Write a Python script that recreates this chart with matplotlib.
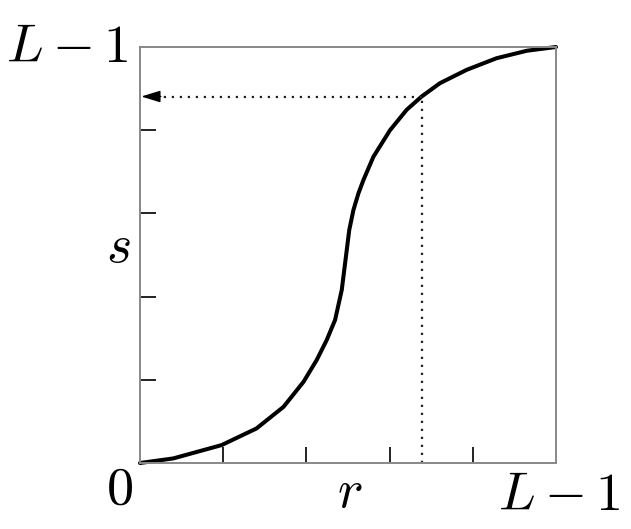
import matplotlib
matplotlib.use("Agg")
import matplotlib.pyplot as plt

plt.rcParams['mathtext.fontset'] = 'cm'

# transformation curve s = T(r) (fractions of L-1)
r_vals = [0.0, 0.08, 0.196, 0.28, 0.345, 0.393, 0.425, 0.449, 0.469, 0.485, 0.493,
          0.503, 0.513, 0.525, 0.537, 0.561, 0.601, 0.641, 0.677, 0.721, 0.785,
          0.857, 0.93, 1.0]
s_vals = [0.0, 0.011, 0.043, 0.083, 0.135, 0.195, 0.248, 0.296, 0.344, 0.416, 0.48,
          0.56, 0.608, 0.648, 0.68, 0.736, 0.80, 0.849, 0.881, 0.913, 0.945,
          0.973, 0.991, 1.0]

r_k = 0.677   # chosen input level
s_k = 0.881   # its mapped output
tick_pos = [0.2, 0.4, 0.6, 0.8]

W, H = 631, 529
fig = plt.figure(figsize=(W / 100, H / 100), dpi=100)
ax = fig.add_axes([140 / W, 1 - 463 / H, 416 / W, 416 / H])
ax.set_xlim(0, 1)
ax.set_ylim(0, 1)

ax.plot(r_vals, s_vals, color='black', lw=2.9, clip_on=False,
        solid_capstyle='round', solid_joinstyle='round')

# dotted guide lines
ax.plot([r_k, r_k], [0, s_k], color='#222222', lw=1.6, ls=(0, (1, 2.6)))
ax.plot([r_k, 0.03], [s_k, s_k], color='#222222', lw=1.6, ls=(0, (1, 2.6)))
ax.annotate('', xy=(0.003, s_k), xytext=(0.05, s_k),
            arrowprops=dict(arrowstyle='-|>,head_length=0.65,head_width=0.2',
                            color='black', lw=1.0,
                            shrinkA=0, shrinkB=0, mutation_scale=18))

for sp in ax.spines.values():
    sp.set_color('#888888')
    sp.set_linewidth(1.4)

ax.set_xticks(tick_pos)
ax.set_yticks(tick_pos)
ax.set_xticklabels([])
ax.set_yticklabels([])
ax.tick_params(direction='in', length=11.5, width=1.4, color='#222222')

fs = 39
def label(px, py, txt, ha):
    fig.text(px / W, 1 - py / H, txt, fontsize=fs, ha=ha, va='baseline')

label(129, 62, r'$L-1$', 'right')
label(119, 504, r'$0$', 'center')
label(350, 507, r'$r$', 'center')
label(559, 510, r'$L-1$', 'center')
label(118, 262, r'$s$', 'center')

fig.savefig('out.png', dpi=100)
